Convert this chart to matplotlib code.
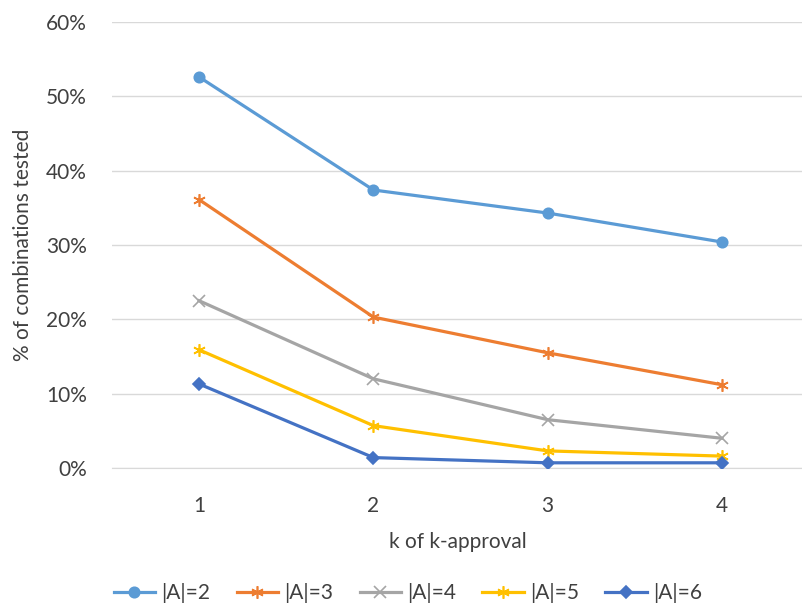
import matplotlib
matplotlib.use("Agg")
import matplotlib.pyplot as plt
from matplotlib.ticker import FuncFormatter

plt.rcParams['font.family'] = ['Lato', 'DejaVu Sans']

k_values = [1, 2, 3, 4]
series_labels = ["|A|=2", "|A|=3", "|A|=4", "|A|=5", "|A|=6"]
a2 = [52.6, 37.4, 34.3, 30.4]
a3 = [36.1, 20.3, 15.5, 11.2]
a4 = [22.5, 12.0, 6.5, 4.0]
a5 = [15.9, 5.7, 2.3, 1.6]
a6 = [11.3, 1.4, 0.7, 0.7]
y_ticks = [0, 10, 20, 30, 40, 50, 60]

colors = ["#5B9BD5", "#ED7D31", "#A5A5A5", "#FFC000", "#4472C4"]
markers = ["o", (6, 2, 0), "x", (6, 2, 0), "D"]
msizes = [7.5, 9, 8, 9, 6.5]

fs = 15
fig = plt.figure(figsize=(8.03, 6.07), dpi=100)
ax = fig.add_axes([112/803, (607-468)/607, (803-112)/803, (468-22)/607])

for vals, lab, c, m, ms in zip([a2, a3, a4, a5, a6], series_labels, colors, markers, msizes):
    ax.plot(k_values, vals, color=c, lw=2.3, marker=m, ms=ms, mec=c, mfc=c,
            mew=1.2, label=lab, zorder=3)

ax.set_xlim(0.5, 4.465)
ax.set_ylim(0, 60)
ax.set_yticks(y_ticks)
ax.yaxis.set_major_formatter(FuncFormatter(lambda v, p: f"{v:.0f}%"))
ax.set_xticks(k_values)
ax.grid(axis='y', color='#D9D9D9', lw=1)
ax.set_axisbelow(True)
for s in ['top', 'right', 'left']:
    ax.spines[s].set_visible(False)
ax.spines['bottom'].set_color('#D9D9D9')
ax.tick_params(axis='both', length=0, labelsize=fs, colors='#404040')
ax.tick_params(axis='y', pad=18)
ax.tick_params(axis='x', pad=20)
ax.set_xlabel("k of k-approval", fontsize=fs, color='#404040', labelpad=12)
ax.set_ylabel("% of combinations tested", fontsize=fs, color='#404040')
ax.yaxis.set_label_coords((33 - 112)/691, 0.5)

fig.legend(loc='center', bbox_to_anchor=(408/803, (607-593)/607), ncol=5, frameon=False,
           fontsize=fs, handlelength=2.0, columnspacing=1.25, handletextpad=0.3,
           labelcolor='#404040')

fig.savefig("out.png", dpi=100)
